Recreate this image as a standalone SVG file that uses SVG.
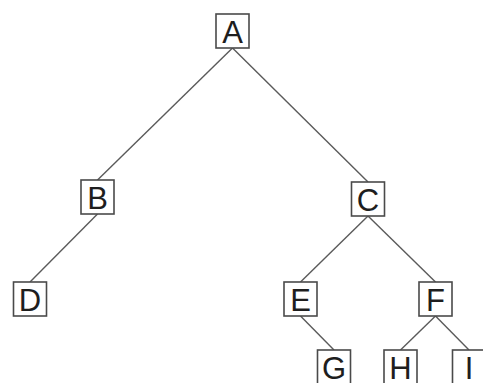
<svg xmlns="http://www.w3.org/2000/svg" width="483" height="383" viewBox="0 0 483 383">
<style>
.edge{stroke:#5a5a5a;stroke-width:1.4;fill:none}
.box{fill:#fff;stroke:#4a4a4a;stroke-width:1.6}
.lbl{font-family:"Liberation Sans",Arial,sans-serif;font-size:31px;fill:#1e1e1e;text-anchor:middle}
</style>
<rect width="483" height="383" fill="#fff"/>
<g id="connectors">
<line class="edge" x1="232.5" y1="48" x2="97.5" y2="180"/>
<line class="edge" x1="232.5" y1="48" x2="368" y2="182"/>
<line class="edge" x1="97.5" y1="214" x2="30" y2="282"/>
<line class="edge" x1="368" y1="216" x2="300.5" y2="282"/>
<line class="edge" x1="368" y1="216" x2="435.5" y2="282"/>
<line class="edge" x1="300.5" y1="316" x2="334" y2="350"/>
<line class="edge" x1="435.5" y1="316" x2="400.5" y2="350"/>
<line class="edge" x1="435.5" y1="316" x2="469" y2="350"/>
</g>
<g id="node-A"><rect class="box" x="216" y="14" width="33" height="34"/><text class="lbl" x="232.5" y="42.5">A</text></g>
<g id="node-B"><rect class="box" x="81" y="180" width="33" height="34"/><text class="lbl" x="97.5" y="208.5">B</text></g>
<g id="node-C"><rect class="box" x="351.5" y="182" width="33" height="34"/><text class="lbl" x="368" y="210.5">C</text></g>
<g id="node-D"><rect class="box" x="13.5" y="282" width="33" height="34"/><text class="lbl" x="30" y="310.5">D</text></g>
<g id="node-E"><rect class="box" x="284" y="282" width="33" height="34"/><text class="lbl" x="300.5" y="310.5">E</text></g>
<g id="node-F"><rect class="box" x="419" y="282" width="33" height="34"/><text class="lbl" x="435.5" y="310.5">F</text></g>
<g id="node-G"><rect class="box" x="317.5" y="350" width="33" height="34"/><text class="lbl" x="334" y="378.5">G</text></g>
<g id="node-H"><rect class="box" x="384" y="350" width="33" height="34"/><text class="lbl" x="400.5" y="378.5">H</text></g>
<g id="node-I"><rect class="box" x="452.5" y="350" width="33" height="34"/><text class="lbl" x="469" y="378.5">I</text></g>
</svg>
